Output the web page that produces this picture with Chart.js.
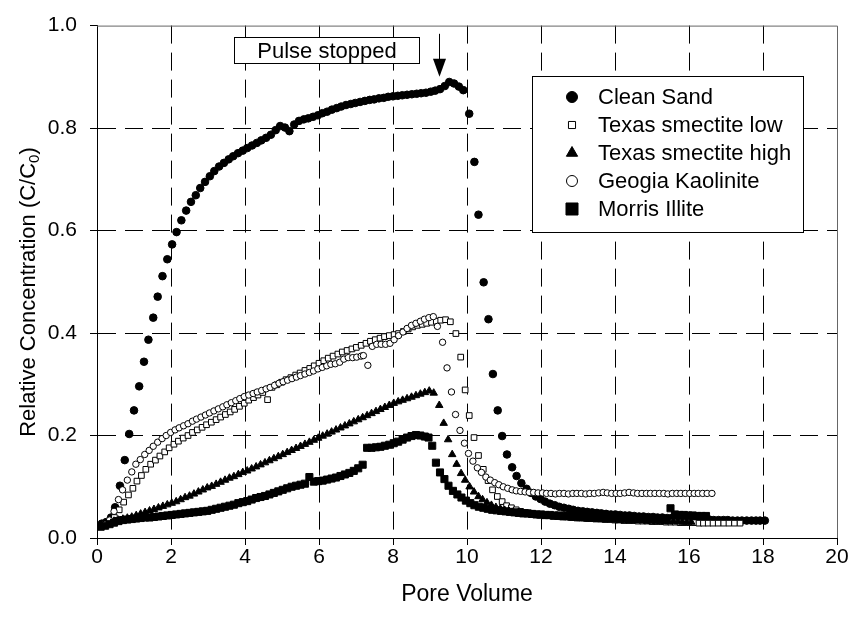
<!DOCTYPE html>
<html>
<head>
<meta charset="utf-8">
<title>Pulse breakthrough curves</title>
<script src="https://cdn.jsdelivr.net/npm/chart.js@4.4.0/dist/chart.umd.min.js"></script>
<style>
  html, body { margin: 0; padding: 0; background: #fff; }
  #wrap { width: 852px; height: 626px; }
</style>
</head>
<body>
<div id="wrap"><canvas id="scatterChart" width="852" height="626"></canvas></div>
<script>
// [pore volume, C/C0]
const cleanSand = [
  [0.13,0.028],[0.25,0.031],[0.38,0.040],[0.49,0.060],[0.62,0.102],[0.75,0.152],[0.87,0.203],[1.00,0.249],
  [1.14,0.296],[1.27,0.344],[1.39,0.387],[1.52,0.430],[1.64,0.471],[1.77,0.511],[1.90,0.544],[2.03,0.573],
  [2.15,0.597],[2.28,0.620],[2.41,0.639],[2.54,0.656],[2.67,0.669],[2.79,0.683],[2.92,0.695],[3.05,0.706],
  [3.17,0.716],[3.30,0.725],[3.43,0.732],[3.56,0.739],[3.68,0.745],[3.81,0.751],[3.94,0.756],[4.06,0.761],
  [4.19,0.766],[4.32,0.771],[4.44,0.776],[4.57,0.781],[4.70,0.787],[4.83,0.796],[4.95,0.804],[5.08,0.801],
  [5.20,0.794],[5.33,0.807],[5.46,0.814],[5.59,0.817],[5.71,0.819],[5.84,0.822],[5.97,0.825],[6.09,0.829],
  [6.22,0.832],[6.35,0.836],[6.48,0.839],[6.60,0.842],[6.73,0.845],[6.86,0.847],[6.98,0.849],[7.11,0.851],
  [7.24,0.853],[7.37,0.855],[7.49,0.856],[7.62,0.858],[7.75,0.859],[7.87,0.861],[8.00,0.862],[8.13,0.863],
  [8.25,0.864],[8.38,0.865],[8.51,0.866],[8.64,0.867],[8.76,0.868],[8.89,0.869],[9.02,0.871],[9.14,0.873],
  [9.27,0.876],[9.40,0.882],[9.52,0.890],[9.65,0.887],[9.78,0.881],[9.90,0.874],[10.06,0.828],[10.20,0.734],
  [10.31,0.631],[10.45,0.499],[10.58,0.427],[10.70,0.320],[10.83,0.249],[10.95,0.199],[11.08,0.163],[11.22,0.138],
  [11.34,0.121],[11.47,0.107],[11.61,0.096],[11.73,0.088],[11.86,0.081],[11.99,0.076],[12.11,0.071],[12.24,0.067],
  [12.37,0.064],[12.49,0.061],[12.62,0.059],[12.75,0.057],[12.87,0.055],[13.00,0.053],[13.13,0.052],[13.25,0.051],
  [13.38,0.050],[13.51,0.049],[13.63,0.048],[13.76,0.047],[13.89,0.046],[14.01,0.046],[14.14,0.045],[14.27,0.044],
  [14.39,0.044],[14.52,0.043],[14.65,0.042],[14.77,0.042],[14.90,0.041],[15.03,0.041],[15.15,0.040],[15.28,0.040],
  [15.41,0.039],[15.53,0.039],[15.66,0.038],[15.79,0.038],[15.91,0.037],[16.04,0.037],[16.17,0.037],[16.29,0.036],
  [16.42,0.036],[16.55,0.036],[16.67,0.035],[16.80,0.035],[16.93,0.035],[17.05,0.035],[17.18,0.034],[17.31,0.034],
  [17.43,0.034],[17.56,0.034],[17.69,0.034],[17.81,0.034],[17.92,0.034],[18.05,0.034]
];

const texasLow = [
  [0.22,0.025],[0.35,0.030],[0.47,0.040],[0.60,0.055],[0.72,0.070],[0.85,0.084],[0.97,0.097],[1.08,0.111],
  [1.20,0.122],[1.32,0.134],[1.45,0.144],[1.58,0.152],[1.70,0.160],[1.83,0.168],[1.95,0.176],[2.08,0.183],
  [2.20,0.189],[2.33,0.195],[2.46,0.200],[2.58,0.206],[2.71,0.211],[2.84,0.216],[2.96,0.221],[3.09,0.226],
  [3.22,0.231],[3.34,0.236],[3.47,0.241],[3.60,0.246],[3.72,0.251],[3.85,0.257],[3.98,0.263],[4.10,0.269],
  [4.23,0.274],[4.35,0.279],[4.48,0.284],[4.61,0.270],[4.73,0.294],[4.86,0.299],[4.99,0.304],[5.11,0.309],
  [5.24,0.313],[5.37,0.318],[5.49,0.322],[5.62,0.327],[5.75,0.331],[5.87,0.336],[6.00,0.341],[6.13,0.346],
  [6.25,0.351],[6.38,0.355],[6.51,0.359],[6.63,0.363],[6.76,0.366],[6.89,0.369],[7.01,0.372],[7.14,0.376],
  [7.27,0.380],[7.39,0.384],[7.52,0.387],[7.65,0.390],[7.77,0.393],[7.90,0.395],[8.03,0.397],[8.15,0.399],
  [8.28,0.403],[8.41,0.408],[8.53,0.412],[8.66,0.415],[8.79,0.417],[8.91,0.419],[9.04,0.421],[9.17,0.423],
  [9.29,0.425],[9.42,0.426],[9.55,0.422],[9.70,0.399],[9.83,0.353],[9.95,0.289],[10.06,0.239],[10.19,0.196],
  [10.31,0.161],[10.44,0.134],[10.57,0.112],[10.69,0.094],[10.82,0.081],[10.95,0.071],[11.07,0.063],[11.20,0.059],
  [11.33,0.055],[11.45,0.052],[11.58,0.050],[11.71,0.048],[11.83,0.047],[11.96,0.046],[12.09,0.045],[12.21,0.044],
  [12.34,0.043],[12.47,0.042],[12.59,0.041],[12.72,0.041],[12.85,0.040],[12.97,0.039],[13.10,0.039],[13.23,0.038],
  [13.35,0.038],[13.48,0.037],[13.61,0.037],[13.73,0.036],[13.86,0.036],[13.99,0.035],[14.11,0.035],[14.24,0.034],
  [14.37,0.034],[14.49,0.034],[14.62,0.033],[14.75,0.033],[14.87,0.033],[15.00,0.032],[15.13,0.032],[15.25,0.032],
  [15.38,0.031],[15.51,0.031],[15.63,0.031],[15.76,0.030],[15.89,0.030],[16.01,0.030],[16.14,0.030],[16.27,0.029],
  [16.39,0.029],[16.52,0.029],[16.65,0.029],[16.79,0.029],[16.94,0.029],[17.08,0.029],[17.23,0.029],[17.38,0.029]
];

const texasHigh = [
  [0.10,0.026],[0.22,0.029],[0.34,0.031],[0.46,0.033],[0.58,0.035],[0.70,0.037],[0.82,0.039],[0.94,0.041],
  [1.06,0.044],[1.18,0.047],[1.30,0.050],[1.42,0.053],[1.54,0.056],[1.66,0.059],[1.78,0.062],[1.90,0.065],
  [2.02,0.068],[2.14,0.071],[2.26,0.075],[2.38,0.079],[2.50,0.082],[2.62,0.086],[2.74,0.090],[2.86,0.094],
  [2.98,0.098],[3.10,0.101],[3.22,0.105],[3.34,0.109],[3.46,0.113],[3.58,0.117],[3.70,0.120],[3.82,0.124],
  [3.94,0.128],[4.06,0.131],[4.18,0.135],[4.30,0.139],[4.42,0.143],[4.54,0.147],[4.66,0.151],[4.78,0.155],
  [4.90,0.159],[5.02,0.163],[5.14,0.167],[5.26,0.171],[5.38,0.175],[5.50,0.179],[5.62,0.183],[5.74,0.187],
  [5.86,0.191],[5.98,0.195],[6.10,0.199],[6.22,0.203],[6.34,0.207],[6.46,0.211],[6.58,0.215],[6.70,0.219],
  [6.82,0.223],[6.94,0.227],[7.06,0.231],[7.18,0.235],[7.30,0.239],[7.42,0.243],[7.54,0.247],[7.66,0.251],
  [7.78,0.255],[7.90,0.259],[8.02,0.263],[8.14,0.266],[8.26,0.269],[8.38,0.272],[8.50,0.275],[8.62,0.278],
  [8.74,0.281],[8.86,0.284],[8.98,0.287],[9.10,0.283],[9.25,0.259],[9.37,0.224],[9.49,0.192],[9.60,0.163],
  [9.72,0.144],[9.84,0.126],[9.95,0.113],[10.07,0.100],[10.19,0.090],[10.31,0.081],[10.42,0.075],[10.54,0.069],
  [10.66,0.064],[10.78,0.060],[10.90,0.057],[11.02,0.054],[11.14,0.052],[11.26,0.050],[11.38,0.048],[11.50,0.047],
  [11.62,0.046],[11.74,0.045],[11.86,0.044],[11.98,0.043],[12.10,0.042],[12.22,0.042],[12.34,0.041],[12.46,0.041],
  [12.58,0.040],[12.70,0.040],[12.82,0.039],[12.94,0.039],[13.06,0.038],[13.18,0.038],[13.30,0.037],[13.42,0.037],
  [13.54,0.037],[13.66,0.036],[13.78,0.036],[13.90,0.036],[14.02,0.035],[14.14,0.035],[14.26,0.035],[14.38,0.034],
  [14.50,0.034],[14.62,0.034],[14.74,0.034],[14.86,0.033],[14.98,0.033],[15.10,0.033],[15.22,0.033],[15.34,0.032],
  [15.46,0.032],[15.58,0.032],[15.70,0.032],[15.82,0.031],[15.94,0.031],[16.06,0.031]
];

const kaolinite = [
  [0.22,0.027],[0.34,0.035],[0.46,0.052],[0.58,0.075],[0.69,0.094],[0.82,0.113],[0.94,0.129],[1.05,0.144],
  [1.17,0.153],[1.29,0.163],[1.41,0.171],[1.52,0.179],[1.64,0.187],[1.76,0.194],[1.87,0.200],[1.99,0.206],
  [2.11,0.211],[2.22,0.215],[2.34,0.219],[2.46,0.223],[2.58,0.228],[2.69,0.232],[2.81,0.236],[2.93,0.240],
  [3.04,0.244],[3.16,0.248],[3.28,0.252],[3.40,0.256],[3.51,0.260],[3.63,0.264],[3.75,0.268],[3.86,0.272],
  [3.98,0.276],[4.10,0.279],[4.22,0.282],[4.33,0.285],[4.45,0.288],[4.57,0.291],[4.68,0.294],[4.80,0.298],
  [4.92,0.302],[5.03,0.305],[5.15,0.308],[5.27,0.311],[5.39,0.314],[5.50,0.317],[5.62,0.320],[5.74,0.323],
  [5.85,0.326],[5.97,0.330],[6.09,0.333],[6.21,0.336],[6.32,0.339],[6.44,0.340],[6.56,0.343],[6.67,0.349],
  [6.79,0.352],[6.91,0.352],[7.02,0.353],[7.14,0.355],[7.20,0.356],[7.32,0.337],[7.44,0.374],[7.56,0.378],
  [7.68,0.378],[7.80,0.378],[7.92,0.380],[8.03,0.387],[8.15,0.395],[8.27,0.402],[8.38,0.409],[8.50,0.415],
  [8.62,0.419],[8.74,0.423],[8.85,0.427],[8.97,0.430],[9.09,0.432],[9.20,0.413],[9.34,0.382],[9.46,0.332],
  [9.58,0.285],[9.69,0.241],[9.81,0.210],[9.93,0.185],[10.04,0.165],[10.16,0.150],[10.28,0.137],[10.39,0.128],
  [10.51,0.119],[10.63,0.113],[10.75,0.108],[10.86,0.104],[10.98,0.100],[11.10,0.097],[11.22,0.094],[11.33,0.092],
  [11.45,0.091],[11.57,0.090],[11.68,0.089],[11.80,0.089],[11.92,0.088],[12.04,0.088],[12.15,0.087],[12.27,0.087],
  [12.39,0.086],[12.50,0.087],[12.62,0.087],[12.74,0.086],[12.86,0.087],[12.97,0.087],[13.09,0.087],[13.21,0.086],
  [13.32,0.087],[13.44,0.087],[13.56,0.088],[13.68,0.089],[13.79,0.088],[13.91,0.087],[14.03,0.087],[14.14,0.087],
  [14.26,0.088],[14.38,0.089],[14.50,0.088],[14.61,0.087],[14.73,0.087],[14.85,0.087],[14.96,0.087],[15.08,0.087],
  [15.20,0.087],[15.32,0.087],[15.43,0.086],[15.55,0.087],[15.67,0.087],[15.78,0.087],[15.90,0.087],[16.02,0.087],
  [16.14,0.087],[16.25,0.087],[16.37,0.087],[16.49,0.087],[16.62,0.087]
];

const morrisIllite = [
  [0.10,0.022],[0.22,0.024],[0.34,0.027],[0.46,0.030],[0.58,0.033],[0.70,0.035],[0.82,0.036],[0.94,0.037],
  [1.06,0.038],[1.18,0.039],[1.30,0.040],[1.42,0.040],[1.54,0.041],[1.66,0.042],[1.78,0.043],[1.90,0.044],
  [2.02,0.045],[2.14,0.046],[2.26,0.047],[2.38,0.048],[2.50,0.049],[2.62,0.050],[2.74,0.051],[2.86,0.052],
  [2.98,0.053],[3.10,0.055],[3.22,0.057],[3.34,0.059],[3.46,0.061],[3.58,0.063],[3.70,0.065],[3.82,0.068],
  [3.94,0.070],[4.06,0.072],[4.18,0.075],[4.30,0.078],[4.42,0.080],[4.54,0.082],[4.66,0.085],[4.78,0.088],
  [4.90,0.091],[5.02,0.094],[5.14,0.097],[5.26,0.100],[5.38,0.102],[5.50,0.104],[5.62,0.106],[5.74,0.119],
  [5.86,0.110],[5.98,0.111],[6.10,0.112],[6.22,0.114],[6.34,0.116],[6.46,0.118],[6.58,0.121],[6.70,0.124],
  [6.82,0.127],[6.94,0.131],[7.06,0.136],[7.18,0.143],[7.30,0.176],[7.42,0.176],[7.54,0.177],[7.66,0.178],
  [7.78,0.180],[7.90,0.182],[8.02,0.185],[8.14,0.188],[8.26,0.192],[8.38,0.196],[8.50,0.199],[8.62,0.201],
  [8.74,0.200],[8.86,0.198],[8.96,0.196],[9.06,0.180],[9.16,0.147],[9.27,0.128],[9.39,0.115],[9.50,0.102],
  [9.62,0.092],[9.74,0.085],[9.85,0.079],[9.97,0.073],[10.09,0.068],[10.20,0.064],[10.32,0.061],[10.44,0.059],
  [10.56,0.057],[10.68,0.055],[10.80,0.054],[10.92,0.053],[11.04,0.052],[11.16,0.051],[11.28,0.050],[11.40,0.049],
  [11.52,0.048],[11.64,0.048],[11.76,0.047],[11.88,0.046],[12.00,0.046],[12.12,0.045],[12.24,0.045],[12.36,0.044],
  [12.48,0.044],[12.60,0.043],[12.72,0.043],[12.84,0.042],[12.96,0.042],[13.08,0.042],[13.20,0.041],[13.32,0.041],
  [13.44,0.040],[13.56,0.040],[13.68,0.040],[13.80,0.039],[13.92,0.039],[14.04,0.039],[14.16,0.038],[14.28,0.038],
  [14.40,0.038],[14.52,0.038],[14.64,0.037],[14.76,0.037],[14.88,0.037],[15.00,0.037],[15.12,0.036],[15.24,0.036],
  [15.36,0.036],[15.50,0.058],[15.62,0.046],[15.74,0.045],[15.86,0.045],[15.98,0.044],[16.10,0.044],[16.22,0.043],
  [16.34,0.043],[16.46,0.043]
];

const seriesNames = ['Clean Sand', 'Texas smectite low', 'Texas smectite high', 'Geogia Kaolinite', 'Morris Illite'];
const xTicks = [0, 2, 4, 6, 8, 10, 12, 14, 16, 18, 20];
const yTicks = [0, 0.2, 0.4, 0.6, 0.8, 1.0];

const FONT = '"Liberation Sans", Arial, Helvetica, sans-serif';

// marker look per series: plot size and legend size
const markers = [
  { style: 'circle',   fill: '#000', radius: 3.8, legendRadius: 5.5 },
  { style: 'rect',     fill: '#fff', radius: 4.0, legendRadius: 5.0 },
  { style: 'triangle', fill: '#000', radius: 4.3, legendRadius: 6.5 },
  { style: 'circle',   fill: '#fff', radius: 3.2, legendRadius: 5.5 },
  { style: 'rect',     fill: '#000', radius: 5.0, legendRadius: 8.5 }
];

function toPoints(pairs) {
  return pairs.map(p => ({ x: p[0], y: p[1] }));
}

function drawMarker(c, style, x, y, r, fill) {
  c.beginPath();
  if (style === 'circle') {
    c.arc(x, y, r, 0, Math.PI * 2);
  } else if (style === 'rect') {
    const s = r * Math.SQRT1_2;
    c.rect(x - s, y - s, 2 * s, 2 * s);
  } else {
    c.moveTo(x, y - r);
    c.lineTo(x + r * 0.866, y + r * 0.5);
    c.lineTo(x - r * 0.866, y + r * 0.5);
    c.closePath();
  }
  c.fillStyle = fill;
  c.fill();
  c.strokeStyle = '#000';
  c.lineWidth = 1;
  c.stroke();
}

// frame, annotation, axis titles and legend box
const decorations = {
  id: 'decorations',
  afterDraw(chart) {
    const c = chart.ctx;
    const a = chart.chartArea;
    const xs = chart.scales.x;
    const ys = chart.scales.y;
    c.save();

    c.strokeStyle = '#666';
    c.lineWidth = 1;
    c.beginPath();
    c.moveTo(a.left, a.top + 0.5);
    c.lineTo(a.right + 0.5, a.top + 0.5);
    c.lineTo(a.right + 0.5, a.bottom);
    c.stroke();

    // "Pulse stopped" box
    const bx0 = Math.round(xs.getPixelForValue(3.7)) + 0.5;
    const bx1 = Math.round(xs.getPixelForValue(8.7)) + 0.5;
    const by0 = Math.round(ys.getPixelForValue(0.977)) + 0.5;
    const by1 = Math.round(ys.getPixelForValue(0.927)) + 0.5;
    c.fillStyle = '#fff';
    c.fillRect(bx0, by0, bx1 - bx0, by1 - by0);
    c.strokeStyle = '#000';
    c.strokeRect(bx0, by0, bx1 - bx0, by1 - by0);
    c.fillStyle = '#000';
    c.font = '22px ' + FONT;
    c.textAlign = 'center';
    c.textBaseline = 'middle';
    c.fillText('Pulse stopped', (bx0 + bx1) / 2, (by0 + by1) / 2 + 1);

    // arrow pointing at the end of the pulse
    const ax = Math.round(xs.getPixelForValue(9.23)) + 0.5;
    const ay0 = ys.getPixelForValue(0.984);
    const ay1 = ys.getPixelForValue(0.900);
    c.beginPath();
    c.moveTo(ax, ay0);
    c.lineTo(ax, ay1 - 14);
    c.stroke();
    c.beginPath();
    c.moveTo(ax - 6.5, ay1 - 18);
    c.lineTo(ax + 6.5, ay1 - 18);
    c.lineTo(ax, ay1);
    c.closePath();
    c.fill();

    // axis titles
    c.font = '23px ' + FONT;
    c.textAlign = 'center';
    c.textBaseline = 'middle';
    c.fillText('Pore Volume', (a.left + a.right) / 2, 595);

    c.save();
    c.translate(27, 292);
    c.rotate(-Math.PI / 2);
    const main = 'Relative Concentration (C/C';
    c.font = '22px ' + FONT;
    const w1 = c.measureText(main).width;
    const w3 = c.measureText(')').width;
    c.font = '15px ' + FONT;
    const w2 = c.measureText('0').width;
    let tx = -(w1 + w2 + w3) / 2;
    c.textAlign = 'left';
    c.textBaseline = 'alphabetic';
    c.font = '22px ' + FONT;
    c.fillText(main, tx, 8);
    tx += w1;
    c.font = '15px ' + FONT;
    c.fillText('0', tx, 12);
    tx += w2;
    c.font = '22px ' + FONT;
    c.fillText(')', tx, 8);
    c.restore();

    // legend
    const lx0 = 532.5, ly0 = 76.5, lw = 271, lh = 156;
    c.fillStyle = '#fff';
    c.fillRect(lx0, ly0, lw, lh);
    c.strokeStyle = '#000';
    c.strokeRect(lx0, ly0, lw, lh);
    c.font = '22px ' + FONT;
    c.textAlign = 'left';
    c.textBaseline = 'middle';
    seriesNames.forEach((name, i) => {
      const y = 97 + i * 28;
      const m = markers[i];
      drawMarker(c, m.style, 572, y, m.legendRadius, m.fill);
      c.fillStyle = '#000';
      c.fillText(name, 598, y + 1);
    });

    c.restore();
  }
};

document.addEventListener('DOMContentLoaded', function() {
  const ctx = document.getElementById('scatterChart');
  const allSeries = [cleanSand, texasLow, texasHigh, kaolinite, morrisIllite];

  const datasets = allSeries.map((pairs, i) => ({
    label: seriesNames[i],
    data: toPoints(pairs),
    showLine: false,
    pointStyle: markers[i].style,
    pointRadius: markers[i].radius,
    pointHoverRadius: markers[i].radius,
    pointBackgroundColor: markers[i].fill,
    pointBorderColor: '#000',
    pointBorderWidth: 1,
    order: allSeries.length - i
  }));

  const tickFont = { family: FONT, size: 21 };

  new Chart(ctx, {
    type: 'scatter',
    data: { datasets: datasets },
    options: {
      responsive: false,
      animation: false,
      devicePixelRatio: 1,
      events: [],
      layout: { padding: { top: 19, right: 15, left: 0, bottom: 0 } },
      plugins: {
        legend: { display: false },
        tooltip: { enabled: false }
      },
      scales: {
        x: {
          type: 'linear',
          min: 0,
          max: 20,
          afterFit: function(scale) { scale.height = 88; },
          afterBuildTicks: function(scale) { scale.ticks = xTicks.map(v => ({ value: v })); },
          ticks: {
            font: tickFont,
            color: '#000',
            padding: 0,
            maxRotation: 0,
            callback: function(value) { return String(value); }
          },
          grid: {
            color: c => (c.tick && c.tick.value === 20 ? 'rgba(0,0,0,0)' : '#000'),
            tickColor: '#000',
            tickLength: 7,
            lineWidth: 1
          },
          border: { color: '#000', width: 1, dash: [18, 9] }
        },
        y: {
          type: 'linear',
          min: 0,
          max: 1,
          afterFit: function(scale) { scale.width = 97; },
          afterBuildTicks: function(scale) { scale.ticks = yTicks.map(v => ({ value: v })); },
          ticks: {
            font: tickFont,
            color: '#000',
            padding: 13,
            callback: function(value) { return value.toFixed(1); }
          },
          grid: {
            color: c => (c.tick && c.tick.value === 1 ? 'rgba(0,0,0,0)' : '#000'),
            tickColor: '#000',
            tickLength: 7,
            lineWidth: 1
          },
          border: { color: '#000', width: 1, dash: [18, 9] }
        }
      }
    },
    plugins: [decorations]
  });
});
</script>
</body>
</html>
